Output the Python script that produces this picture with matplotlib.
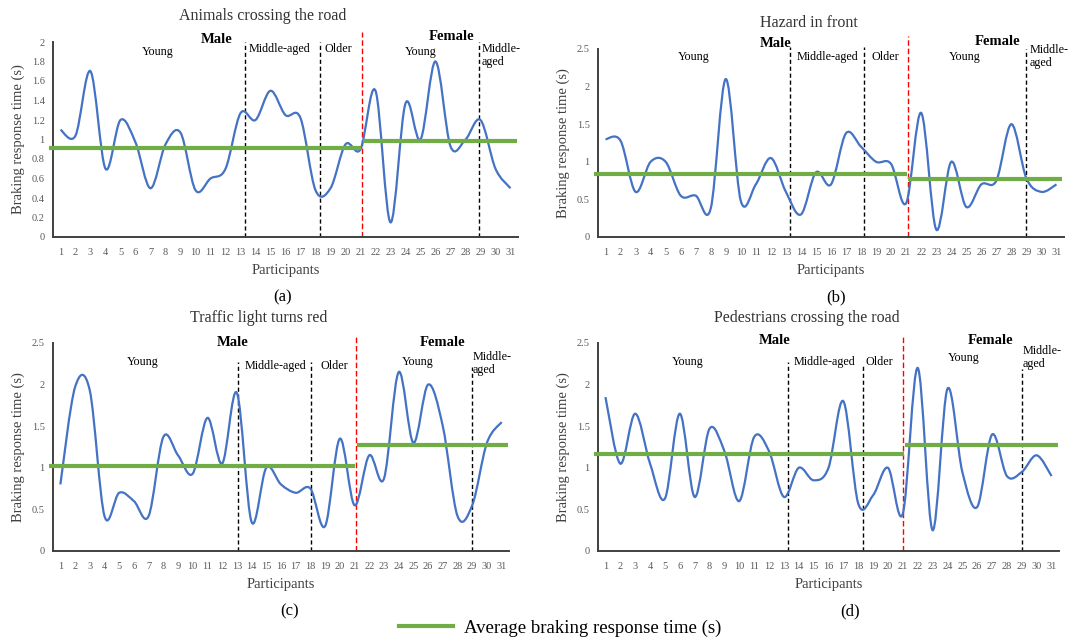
import numpy as np
import matplotlib
matplotlib.use('Agg')
from matplotlib import pyplot as plt
from matplotlib.path import Path
from matplotlib.patches import PathPatch
from matplotlib.lines import Line2D

plt.rcParams['font.family'] = ['Liberation Serif', 'DejaVu Serif']

participants = list(range(1, 32))

animals = [1.1, 1.04, 1.7, 0.7, 1.2, 0.97, 0.5, 0.95, 1.07, 0.48, 0.6, 0.7, 1.27, 1.2, 1.5, 1.25,
           1.22, 0.48, 0.5, 0.95, 0.9, 1.5, 0.15, 1.37, 1.0, 1.8, 0.93, 1.0, 1.2, 0.7, 0.5]
hazard = [1.3, 1.28, 0.6, 1.0, 1.0, 0.55, 0.55, 0.38, 2.1, 0.48, 0.7, 1.05, 0.6, 0.3, 0.86, 0.7,
          1.38, 1.2, 1.0, 0.97, 0.45, 1.65, 0.1, 1.0, 0.4, 0.7, 0.75, 1.5, 0.78, 0.6, 0.7]
traffic = [0.8, 1.97, 1.93, 0.42, 0.7, 0.6, 0.42, 1.37, 1.15, 0.93, 1.6, 1.05, 1.9, 0.35, 1.0, 0.8,
           0.7, 0.75, 0.3, 1.35, 0.55, 1.15, 0.87, 2.15, 1.3, 2.0, 1.5, 0.42, 0.55, 1.3, 1.55]
pedestrians = [1.85, 1.05, 1.65, 1.05, 0.63, 1.65, 0.65, 1.47, 1.2, 0.6, 1.37, 1.2, 0.65, 1.0, 0.85, 1.0,
               1.8, 0.57, 0.67, 1.0, 0.45, 2.2, 0.25, 1.95, 0.95, 0.53, 1.4, 0.9, 0.95, 1.15, 0.9]

avg_male = [0.91, 0.84, 1.02, 1.17]
avg_female = [0.98, 0.77, 1.27, 1.27]

titles = ['Animals crossing the road', 'Hazard in front', 'Traffic light turns red',
          'Pedestrians crossing the road']
captions = ['(a)', '(b)', '(c)', '(d)']
series = [animals, hazard, traffic, pedestrians]

W, H = 1092, 644
fig = plt.figure(figsize=(W / 100, H / 100), dpi=100)

# axes boxes in pixels: left, right, top, bottom
boxes = [(53, 518, 42, 237), (598, 1064, 49, 237), (53, 509, 343, 551), (598, 1059, 343, 551)]
title_pos = [(263, 16), (809, 23), (259, 318), (807, 318)]
caption_pos = [(283, 297), (836, 297), (290, 611), (850, 611)]
ylims = [2, 2.5, 2.5, 2.5]
yticks = [np.arange(0, 2.01, 0.2), np.arange(0, 2.51, 0.5), np.arange(0, 2.51, 0.5), np.arange(0, 2.51, 0.5)]
# divider x positions and their top (axes fraction)
dividers = [
    [(13.3, 1.0), (18.27, 1.0), (28.9, 1.0)],
    [(13.3, 1.01), (18.2, 1.01), (29.0, 1.0)],
    [(13.1, 0.91), (18.05, 0.91), (29.0, 0.885)],
    [(13.3, 0.91), (18.3, 0.89), (29.0, 0.875)],
]
red_div = [(21.1, 1.05), (21.1, 1.07), (21.1, 1.04), (21.0, 1.03)]
# group labels: (young, male, middle, older, female, young_f, middle_f) -> (x, y frac)
labels_pos = [
    [(7.5, 0.95), (11.4, 1.015), (15.6, 0.964), (19.5, 0.964), (27.1, 1.03), (25.0, 0.95), (29.1, 0.93)],
    [(6.85, 0.957), (12.3, 1.03), (15.8, 0.96), (19.6, 0.96), (27.1, 1.04), (24.9, 0.957), (29.2, 0.96)],
    [(6.6, 0.91), (12.7, 1.0), (15.6, 0.89), (19.6, 0.89), (27.0, 1.0), (25.3, 0.91), (29.0, 0.9)],
    [(6.5, 0.91), (12.4, 1.01), (15.7, 0.91), (19.4, 0.91), (26.9, 1.01), (25.1, 0.93), (29.05, 0.93)],
]

blue = '#4472C4'
green = '#70AD47'
grey = '#595959'


def smooth_path(x, y):
    # excel-like smoothed line via cubic bezier segments
    pts = np.column_stack([x, y]).astype(float)
    n = len(pts)
    verts = [pts[0]]
    codes = [Path.MOVETO]
    for i in range(n - 1):
        p0 = pts[i - 1] if i > 0 else pts[i]
        p1 = pts[i]
        p2 = pts[i + 1]
        p3 = pts[i + 2] if i + 2 < n else pts[i + 1]
        c1 = p1 + (p2 - p0) / 6
        c2 = p2 - (p3 - p1) / 6
        verts += [c1, c2, p2]
        codes += [Path.CURVE4] * 3
    return Path(verts, codes)


for k in range(4):
    l, r, t, b = boxes[k]
    ax = fig.add_axes([l / W, 1 - b / H, (r - l) / W, (b - t) / H])
    ax.set_xlim(0.5, 31.5)
    ax.set_ylim(0, ylims[k])
    ax.set_xticks(participants)
    ax.set_yticks(yticks[k])
    ax.set_yticklabels(['%g' % v for v in yticks[k]])
    ax.tick_params(length=0, labelsize=7.5, colors=grey, pad=6)
    ax.tick_params(axis='x', pad=8)
    for s in ['top', 'right']:
        ax.spines[s].set_visible(False)
    for s in ['left', 'bottom']:
        ax.spines[s].set_color('#404040')
        ax.spines[s].set_linewidth(1.4)

    ax.add_patch(PathPatch(smooth_path(participants, series[k]), fill=False,
                           edgecolor=blue, lw=1.6, zorder=3))

    ax.plot([0.25, 21.05], [avg_male[k]] * 2, color=green, lw=3, clip_on=False, zorder=4,
            solid_capstyle='butt')
    ax.plot([21.15, 31.4], [avg_female[k]] * 2, color=green, lw=3, clip_on=False, zorder=4,
            solid_capstyle='butt')

    for xd, top in dividers[k]:
        ax.axvline(xd, ymin=0, ymax=top, color='black', lw=1, ls=(0, (3, 2)), clip_on=False, zorder=2)
    ax.axvline(red_div[k][0], ymin=0, ymax=red_div[k][1], color='red', lw=1, ls=(0, (4, 2)),
               clip_on=False, zorder=2)

    tr = ax.get_xaxis_transform()
    lp = labels_pos[k]
    ax.text(lp[0][0], lp[0][1], 'Young', transform=tr, ha='center', va='center', fontsize=8.7)
    ax.text(lp[1][0], lp[1][1], 'Male', transform=tr, ha='center', va='center', fontsize=10.5,
            fontweight='bold')
    ax.text(lp[2][0], lp[2][1], 'Middle-aged', transform=tr, ha='center', va='center', fontsize=8.7)
    ax.text(lp[3][0], lp[3][1], 'Older', transform=tr, ha='center', va='center', fontsize=8.7)
    ax.text(lp[4][0], lp[4][1], 'Female', transform=tr, ha='center', va='center', fontsize=10.5,
            fontweight='bold')
    ax.text(lp[5][0], lp[5][1], 'Young', transform=tr, ha='center', va='center', fontsize=8.7)
    ax.text(lp[6][0], lp[6][1], 'Middle-\naged', transform=tr, ha='left', va='center', fontsize=8.7,
            linespacing=1.1)

    ax.set_xlabel('Participants', fontsize=10.5, color='#404040')
    ax.set_ylabel('Braking response time (s)', fontsize=10.5, color='#404040')
    ax.xaxis.set_label_coords(0.5, -27 / (b - t))
    ax.yaxis.set_label_coords(-28 / (r - l), 0.5)

    fig.text(title_pos[k][0] / W, 1 - title_pos[k][1] / H, titles[k], ha='center', va='center',
             fontsize=11.5, color='#333333')
    fig.text(caption_pos[k][0] / W, 1 - caption_pos[k][1] / H, captions[k], ha='center', va='center',
             fontsize=12, color='black')

fig.legend(handles=[Line2D([], [], color=green, lw=3)], labels=['Average braking response time (s)'],
           loc='center', bbox_to_anchor=(560 / W, 1 - 628 / H), frameon=False, fontsize=13.5,
           handlelength=2.9, handletextpad=0.6)

fig.savefig('out.png', dpi=100)
